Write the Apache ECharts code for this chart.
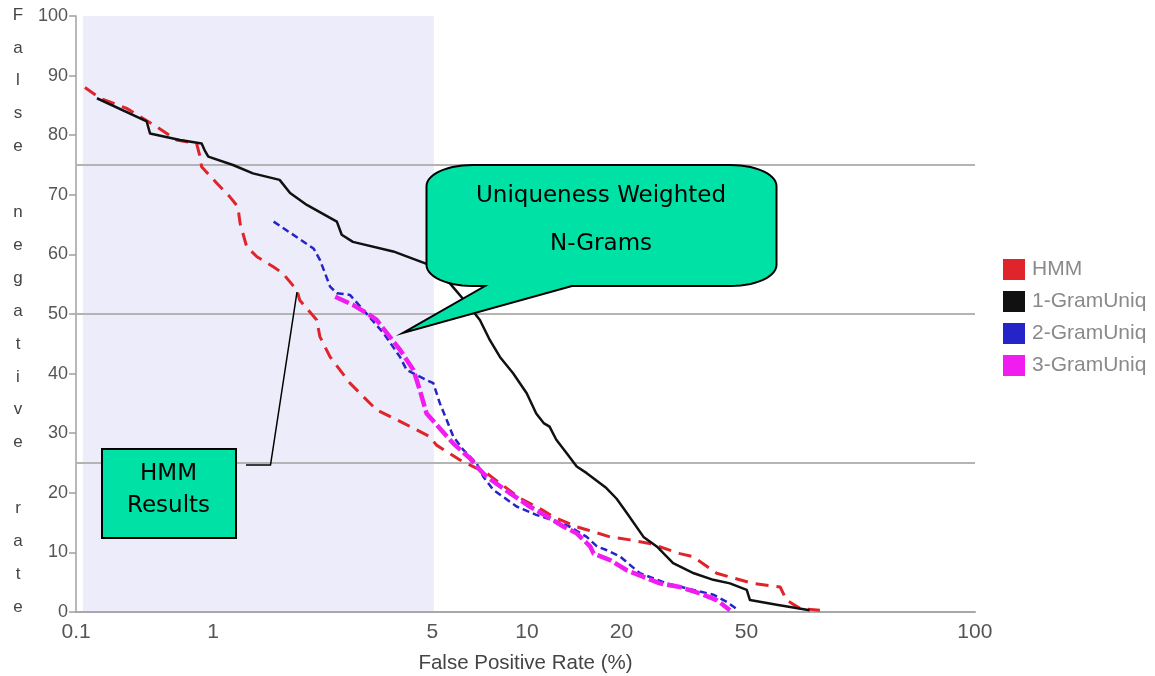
<!DOCTYPE html>
<html>
<head>
<meta charset="utf-8">
<script src="https://cdn.jsdelivr.net/npm/echarts@6/dist/echarts.min.js"></script>
<style>
html,body{margin:0;padding:0;background:#fff;}
#chart{width:1155px;height:676px;}
</style>
</head>
<body>
<div id="chart"></div>
<script>
// ---- data (x = false positive rate %, y = false negative rate %) ----
const seriesNames = ['HMM', '1-GramUniq', '2-GramUniq', '3-GramUniq'];

const hmm = [[0.391,88.0],[0.437,86.2],[0.531,84.5],[0.662,81.4],[0.766,79.2],[0.887,78.6],[0.909,76.4],[0.92,74.7],[1.03,71.9],[1.13,69.7],[1.2,68.0],[1.22,65.2],[1.28,61.3],[1.38,59.6],[1.56,57.9],[1.67,56.8],[1.85,54.0],[1.89,52.3],[2.14,49.0],[2.19,46.2],[2.36,42.8],[2.73,38.4],[3.32,33.9],[4.04,31.7],[4.91,29.4],[5.15,28.0],[6.12,25.5],[7.44,23.3],[8.2,21.6],[9.5,19.1],[11.2,17.1],[12.1,16.0],[14.4,14.3],[15.5,13.8],[18.4,12.6],[21.3,12.1],[24.6,11.5],[30.7,9.8],[33.8,9.3],[40.2,6.5],[52.4,4.8],[64.0,4.2],[67.1,2.0],[74.0,0.6],[85.7,0.3]];

const gram1 = [[0.427,86.2],[0.615,82.3],[0.630,80.3],[0.785,79.2],[0.920,78.6],[0.94,77.5],[0.966,76.4],[1.158,75.0],[1.34,73.6],[1.63,72.5],[1.76,70.3],[1.99,68.3],[2.48,65.5],[2.57,63.3],[2.79,62.1],[3.75,60.5],[4.79,58.4],[5.69,55.1],[6.43,51.8],[7.08,49.0],[7.62,45.6],[8.20,42.8],[9.02,40.1],[9.98,36.7],[10.7,33.3],[11.3,31.7],[11.8,31.1],[12.4,28.9],[13.4,26.6],[14.4,24.4],[15.5,23.3],[17.9,20.8],[19.3,19.0],[20.8,16.6],[23.5,12.6],[25.9,11.0],[29.2,8.2],[34.0,6.5],[39.2,5.4],[44.3,4.8],[50.1,3.7],[51.3,2.0],[62.4,1.2],[79.5,0.3]];

const gram2 = [[1.56,65.5],[2.09,61.0],[2.19,59.1],[2.36,54.6],[2.48,53.5],[2.73,53.2],[3.01,50.7],[3.49,46.8],[3.94,42.8],[4.14,40.6],[4.79,38.9],[5.03,38.4],[5.28,35.0],[5.55,32.2],[5.83,29.4],[6.27,27.2],[6.92,24.9],[7.26,22.7],[7.81,20.5],[9.27,17.7],[10.7,16.3],[12.1,15.4],[13.7,14.3],[15.5,12.6],[16.7,11.0],[17.9,10.4],[19.8,9.3],[22.9,6.5],[27.9,4.8],[33.9,3.7],[39.2,2.9],[43.3,1.7],[47.1,0.3]];

const gram3 = [[2.45,52.9],[2.80,51.5],[3.16,49.8],[3.32,49.0],[3.94,44.0],[4.35,40.6],[4.56,37.2],[4.79,33.3],[5.28,30.8],[5.82,28.3],[6.58,25.8],[7.09,23.8],[7.44,22.7],[8.84,19.9],[10.2,17.7],[11.6,16.0],[13.1,14.3],[14.4,13.2],[15.9,11.0],[16.3,9.8],[18.4,8.7],[20.8,7.0],[23.5,5.9],[26.5,4.8],[30.7,4.2],[35.6,3.1],[40.2,2.0],[44.3,0.3]];

// axis extent and tick labels
const XMIN = 0.3662, XMAX = 267.2;
const xTickValues = [XMIN * 1.001, 1, 5, 10, 20, 50, XMAX * 0.999];
const xTickLabels = ['0.1', '1', '5', '10', '20', '50', '100'];
const shadeRange = [0.385, 5.05];
const refLines = [25, 50, 75];

// ---- chart ----
const chart = echarts.init(document.getElementById('chart'), null, {renderer: 'canvas'});
const FONT = 'Liberation Sans, Arial, sans-serif';
const TEAL = '#00e1a5';

function labelFor(v) {
  let best = 0, bd = Infinity;
  xTickValues.forEach((t, i) => {
    const d = Math.abs(Math.log10(v) - Math.log10(t));
    if (d < bd) { bd = d; best = i; }
  });
  return xTickLabels[best];
}

// rounded speech-bubble outline (decoration)
function bubblePoints(L, T, R, B, rx, ry, tail) {
  const pts = [];
  const arc = (cx, cy, a0, a1) => {
    const n = 14;
    for (let i = 0; i <= n; i++) {
      const a = a0 + (a1 - a0) * i / n;
      pts.push([cx + rx * Math.cos(a), cy + ry * Math.sin(a)]);
    }
  };
  arc(L + rx, T + ry, Math.PI, 1.5 * Math.PI);
  arc(R - rx, T + ry, 1.5 * Math.PI, 2 * Math.PI);
  arc(R - rx, B - ry, 0, 0.5 * Math.PI);
  pts.push([tail[2], B], [tail[0], tail[1]], [tail[3], B]);
  arc(L + rx, B - ry, 0.5 * Math.PI, Math.PI);
  return pts;
}

const yName = 'False negative rate'.split('').join('\n');

const colors = ['#e0242c', '#111111', '#2424c8', '#f01cf0'];
const styles = [
  {width: 3, type: [13, 8]},
  {width: 2.5, type: 'solid'},
  {width: 2.5, type: [7, 4]},
  {width: 4.5, type: [15, 4]}
];
const datasets = [hmm, gram1, gram2, gram3];

const series = [{
  type: 'line',
  data: [],
  silent: true,
  z: 1,
  markArea: {
    silent: true,
    z: 0,
    itemStyle: {color: '#ececfa'},
    data: [[{xAxis: shadeRange[0]}, {xAxis: shadeRange[1]}]]
  },
  markLine: {
    silent: true,
    z: 1,
    symbol: 'none',
    label: {show: false},
    lineStyle: {color: '#b4b4b4', width: 2, type: 'solid'},
    data: refLines.map(v => ({yAxis: v}))
  }
}];
datasets.forEach((d, i) => {
  series.push({
    name: seriesNames[i],
    type: 'line',
    data: d,
    symbol: 'none',
    z: 2 + i,
    itemStyle: {color: colors[i]},
    lineStyle: {color: colors[i], width: styles[i].width, type: styles[i].type, cap: 'butt', join: 'round'}
  });
});

chart.setOption({
  animation: false,
  backgroundColor: '#ffffff',
  grid: {left: 76, right: 180, top: 16, bottom: 64, containLabel: false, outerBoundsMode: 'none'},
  legend: {
    data: seriesNames,
    orient: 'vertical',
    left: 998,
    top: 254,
    icon: 'rect',
    itemWidth: 22,
    itemHeight: 21,
    itemGap: 11,
    selectedMode: false,
    textStyle: {color: '#8a8a8a', fontSize: 21, fontFamily: FONT, padding: [0, 0, 0, 2]}
  },
  xAxis: {
    type: 'log',
    logBase: 10,
    min: XMIN,
    max: XMAX,
    name: 'False Positive Rate (%)',
    nameLocation: 'middle',
    nameGap: 41,
    nameTextStyle: {color: '#444', fontSize: 20.5, fontFamily: FONT},
    axisLine: {show: true, lineStyle: {color: '#a8a8a8', width: 2}},
    axisTick: {show: false},
    splitLine: {show: false},
    minorTick: {show: false},
    axisLabel: {
      customValues: xTickValues,
      formatter: v => labelFor(v),
      color: '#555', fontSize: 21, fontFamily: FONT, margin: 10,
      showMinLabel: true, showMaxLabel: true
    }
  },
  yAxis: {
    type: 'value',
    min: 0,
    max: 100,
    interval: 10,
    axisLine: {show: true, lineStyle: {color: '#a0a0a0', width: 1.5}},
    axisTick: {show: true, length: 7, lineStyle: {color: '#a0a0a0', width: 1.5}},
    splitLine: {show: false},
    axisLabel: {color: '#555', fontSize: 18, fontFamily: FONT, margin: 8}
  },
  series: series,
  graphic: [
    {
      type: 'text', x: 18, y: -1.5, z: 50,
      style: {text: yName, fill: '#444', font: '17px ' + FONT, align: 'center', verticalAlign: 'top', lineHeight: 32.9}
    },
    {
      type: 'polyline', z: 50,
      shape: {points: [[246, 465], [270.5, 465], [297, 292]]},
      style: {stroke: '#000', lineWidth: 1.5, fill: null}
    },
    {
      type: 'rect', z: 50,
      shape: {x: 102, y: 449, width: 134, height: 89},
      style: {fill: TEAL, stroke: '#000', lineWidth: 2}
    },
    {
      type: 'text', x: 168.5, y: 490, z: 51,
      style: {text: 'HMM\nResults', fill: '#000', font: '23px DejaVu Sans', align: 'center', verticalAlign: 'middle', lineHeight: 32}
    },
    {
      type: 'polygon', z: 50,
      shape: {points: bubblePoints(426.5, 165, 776.5, 286, 46, 21, [403, 333, 572, 485])},
      style: {fill: TEAL, stroke: '#000', lineWidth: 2, lineJoin: 'miter'}
    },
    {
      type: 'text', x: 601, y: 220, z: 51,
      style: {text: 'Uniqueness Weighted\nN-Grams', fill: '#000', font: '23px DejaVu Sans', align: 'center', verticalAlign: 'middle', lineHeight: 48}
    }
  ]
});
</script>
</body>
</html>
